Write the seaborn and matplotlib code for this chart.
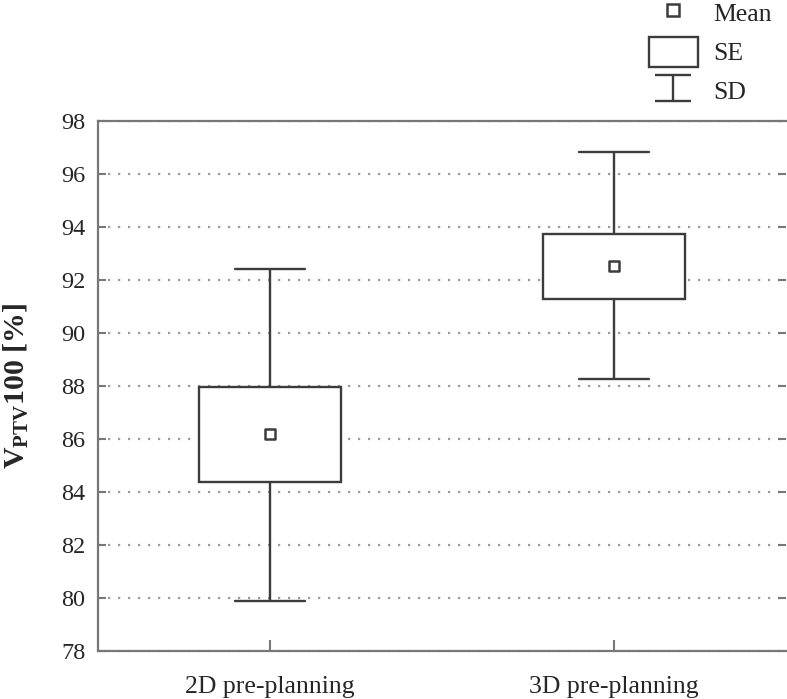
import numpy as np
import matplotlib
matplotlib.use("Agg")
import matplotlib.pyplot as plt
from matplotlib.lines import Line2D
from matplotlib.patches import Patch
from matplotlib.path import Path
import seaborn as sns
import pandas as pd

sns.set_style("white")
plt.rcParams['font.family'] = ['Liberation Serif', 'DejaVu Serif']
plt.rcParams['mathtext.fontset'] = 'custom'
plt.rcParams['mathtext.rm'] = 'Liberation Serif'
plt.rcParams['mathtext.bf'] = 'Liberation Serif:bold'

# summary values
groups = ['2D pre-planning', '3D pre-planning']
means = [86.17, 92.54]
se_low = [84.37, 91.28]
se_high = [87.98, 93.74]
sd_low = [79.88, 88.28]
sd_high = [92.43, 96.83]
yticks = np.arange(78, 99, 2)

line_col = '#3c3c3c'

# 5 values per group so the box quantiles land on SE/SD limits
rows = []
for g, a, b, m, c, d in zip(groups, sd_low, se_low, means, se_high, sd_high):
    for v in (a, b, m, c, d):
        rows.append((g, v))
df = pd.DataFrame(rows, columns=['group', 'value'])
df_mean = pd.DataFrame({'group': groups, 'value': means})

fig = plt.figure(figsize=(7.87, 6.99), dpi=100)
ax = fig.add_axes([98/787, 48/699, 688/787, 530/699])

ax.yaxis.grid(True, linestyle=(0, (1, 3.5)), color='#9a9a9a', linewidth=1.6)
ax.set_axisbelow(True)

sns.boxplot(data=df, x='group', y='value', whis=(0, 100), width=0.41,
            color='white', linecolor=line_col, linewidth=1.7,
            medianprops={'linewidth': 0}, ax=ax)
sns.stripplot(data=df_mean, x='group', y='value', jitter=False, marker='s',
              size=6.5, color='white', edgecolor=line_col, linewidth=1.8, ax=ax)

ax.set_ylim(78, 98)
ax.set_xlim(-0.5, 1.5)
ax.set_yticks(yticks)
ax.set_yticklabels([str(t) for t in yticks])
ax.tick_params(axis='y', direction='in', length=6, width=1.5, color='#777777',
               labelsize=17.5, pad=9, right=True, left=True)
ax.tick_params(axis='x', direction='in', length=8, width=1.5, color='#777777',
               labelsize=18.5, pad=18, bottom=True)
for s in ['left', 'bottom', 'top']:
    ax.spines[s].set_color('#777777')
    ax.spines[s].set_linewidth(1.6)
ax.spines['right'].set_visible(False)

ax.set_xlabel('')
ax.set_ylabel(r'$\mathbf{V_{PTV}100}$ [%]', fontsize=21.5, fontweight='bold', labelpad=22)

# legend (outside, top right)
sd_marker = Path([(-1, 0.7), (1, 0.7), (0, 0.7), (0, -0.7), (-1, -0.7), (1, -0.7)],
                 [Path.MOVETO, Path.LINETO, Path.MOVETO, Path.LINETO, Path.MOVETO, Path.LINETO])
handles = [
    Line2D([], [], marker='s', ls='none', mfc='white', mec=line_col, mew=1.8, ms=8),
    Patch(facecolor='white', edgecolor=line_col, linewidth=1.7),
    Line2D([], [], marker=sd_marker, ls='none', mfc='none', mec=line_col, mew=1.7, ms=26.5),
]
fig.legend(handles, ['Mean', 'SE', 'SD'], loc='upper right',
           bbox_to_anchor=(795/787, 1.036), frameon=False, fontsize=18.5,
           handlelength=1.9, handleheight=1.4, labelspacing=0.36, handletextpad=0.6)

fig.savefig('out.png', dpi=100)
